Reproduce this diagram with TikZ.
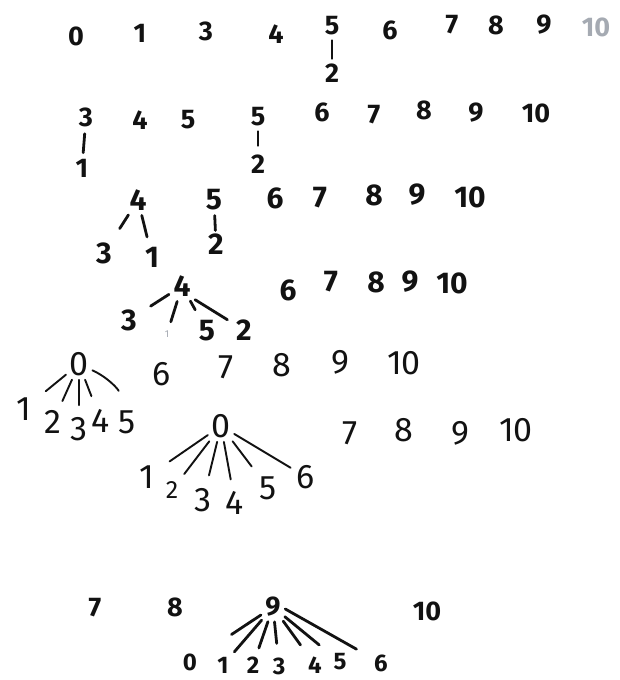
\documentclass[tikz,border=0pt]{standalone}
\usepackage{fontspec}
\setmainfont{Fira Sans}
\usetikzlibrary{positioning}
\definecolor{PenInk}{RGB}{18,18,18}
\definecolor{FadedInk}{RGB}{165,170,178}

\begin{document}
\begin{tikzpicture}[x=1pt,y=-1pt, every node/.style={inner sep=1pt, text=PenInk, font=\fontsize{27}{29}\selectfont\bfseries},
  md/.style={font=\fontsize{30}{32}\selectfont\bfseries},
  lg/.style={font=\fontsize{34}{36}\selectfont},
  tn/.style={font=\fontsize{24}{26}\selectfont\bfseries},
  inkline/.style={PenInk, line width=2.8pt, line cap=round, shorten <=4pt, shorten >=4pt},
  penline/.style={PenInk, line width=1.9pt, line cap=round, shorten <=3pt}]
  \useasboundingbox (0,0) rectangle (620,680);

  \foreach \x/\y/\lab in {76/36/0,140/33/1,206/31/3,276/34/4,332/26/5,390/30/6,452/25/7,496/25/8,544/25/9}
    \node (a\lab) at (\x,\y) {\lab};
  \node[text=FadedInk] (a10) at (596,27) {10};
  \node (a2) at (332,73) {2};
  \draw[inkline] (a5) -- (a2);

  \foreach \x/\y/\lab/\nm in {86/117/3/b3,140/120/4/b4,188/120/5/b5,258/117/5/b5x,322/112/6/b6,374/115/7/b7,424/110/8/b8,476/113/9/b9,536/113/10/b10}
    \node (\nm) at (\x,\y) {\lab};
  \node (b1) at (82,168) {1};
  \node (b2) at (258,164) {2};
  \draw[inkline, shorten <=6pt, shorten >=5pt] (b3) -- (b1);
  \draw[inkline, shorten >=8pt] (b5x) -- (b2);

  \foreach \x/\y/\lab/\nm in {138/200/4/c4,214/200/5/c5,275/198/6/c6,320/198/7/c7,374/195/8/c8,417/195/9/c9,470/197/10/c10,104/253/3/c3,152/257/1/c1,216/244/2/c2}
    \node[md] (\nm) at (\x,\y) {\lab};
  \draw[inkline, shorten >=15pt] (c4) -- (c3);
  \draw[inkline, shorten >=9pt] (c4) -- (c1);
  \draw[inkline, shorten >=2pt] (c5) -- (c2);

  \foreach \x/\y/\lab/\nm in {182/286/4/d4,129/320/3/d3,207/331/5/d5,244/330/2/d2,288/290/6/d6,331/282/7/d7,376/282/8/d8,410/282/9/d9,452/283/10/d10}
    \node[md] (\nm) at (\x,\y) {\lab};
  \node[font=\fontsize{10}{11}\selectfont, text=FadedInk] (d1) at (167,334) {1};
  \draw[inkline, shorten >=15pt] (d4) -- (d3);
  \draw[inkline, shorten >=8pt] (d4) -- (d1);
  \draw[inkline, shorten >=11pt] (d4) -- (d5);
  \draw[inkline, shorten >=9pt] (d4.south east) -- (d2);

  \foreach \x/\y/\lab/\nm in {79/364/0/e0,24/409/1/e1,53/422/2/e2,79/429/3/e3,101/421/4/e4,127/422/5/e5,162/374/6/e6,226/367/7/e7,282/365/8/e8,340/362/9/e9,404/363/10/e10}
    \node[lg] (\nm) at (\x,\y) {\lab};
  \draw[penline, shorten >=17pt] (e0) -- (e1);
  \draw[penline, shorten >=9pt] (e0) -- (e2);
  \draw[penline, shorten >=11pt] (e0) -- (e3);
  \draw[penline, shorten >=13pt] (e0) -- (e4);
  \draw[penline, shorten >=19pt] (e0) to[bend left=25] (e5);

  \foreach \x/\y/\lab/\nm in {221/426/0/f0,147/477/1/f1,203/500/3/f3,235/503/4/f4,268/488/5/f5,306/477/6/f6,350/433/7/f7,404/430/8/f8,460/433/9/f9,516/430/10/f10}
    \node[lg] (\nm) at (\x,\y) {\lab};
  \node[font=\fontsize{25}{27}\selectfont] (f2) at (172,490) {2};
  \draw[penline, shorten >=17pt] (f0) -- (f1);
  \draw[penline, shorten >=8pt] (f0) -- (f2);
  \draw[penline, shorten >=12pt] (f0) -- (f3);
  \draw[penline, shorten >=11pt] (f0) -- (f4);
  \draw[penline, shorten >=11pt] (f0) -- (f5);
  \draw[penline, shorten >=6pt] (f0) -- (f6);

  \foreach \x/\y/\lab/\nm in {95/608/7/g7,175/607/8/g8,273/607/9/g9,427/611/10/g10}
    \node (\nm) at (\x,\y) {\lab};
  \foreach \x/\y/\lab in {190/662/0,223/665/1,253/665/2,279/666/3,315/665/4,340/662/5,381/663/6}
    \node[tn] (h\lab) at (\x,\y) {\lab};
  \draw[inkline, shorten >=40pt] (g9) -- (h0);
  \draw[inkline, shorten >=7pt] (g9) -- (h1);
  \draw[inkline, shorten >=8pt] (g9) -- (h2);
  \draw[inkline, shorten >=13pt] (g9) -- (h3);
  \draw[inkline, shorten >=13pt] (g9) -- (h4);
  \draw[inkline, shorten >=17pt] (g9) -- (h5);
  \draw[inkline, shorten >=19pt] (g9.east) -- (h6);
\end{tikzpicture}
\end{document}
